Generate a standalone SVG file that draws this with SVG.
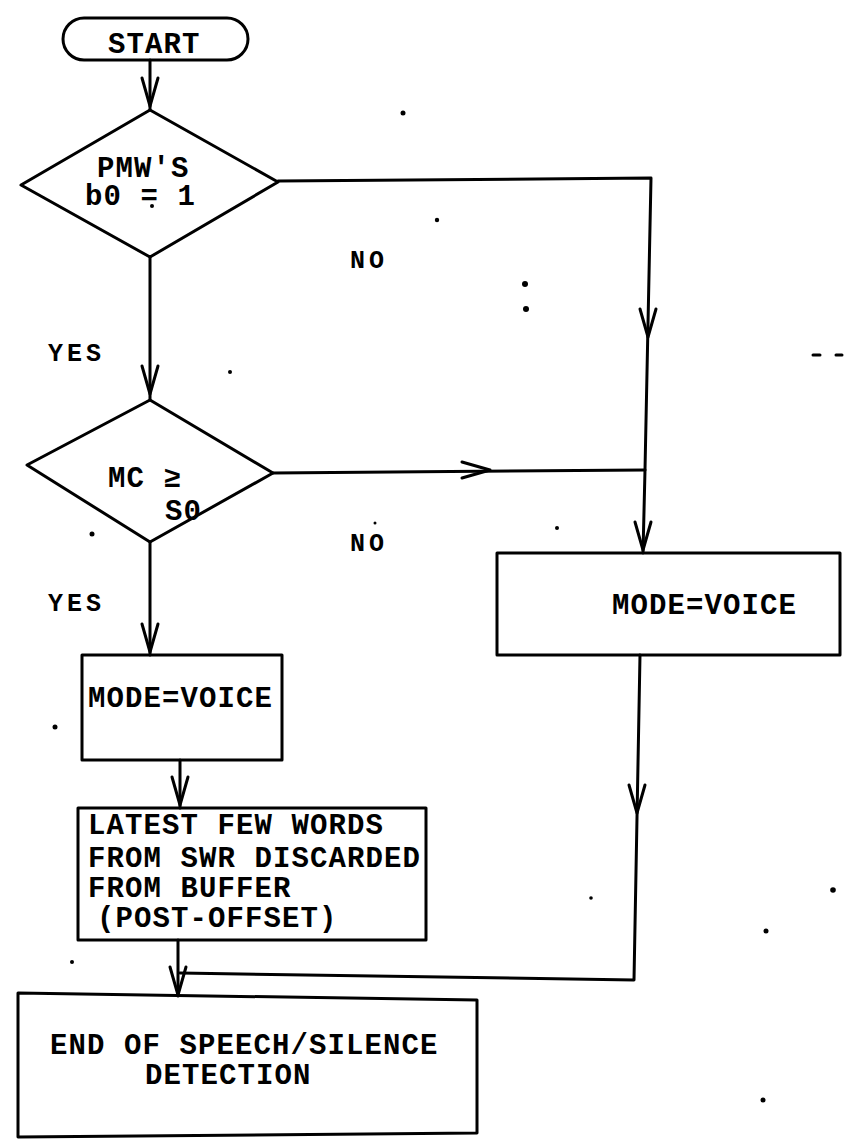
<svg xmlns="http://www.w3.org/2000/svg" width="845" height="1141" viewBox="0 0 845 1141">
<style>
.shape{fill:none;stroke:#000;stroke-width:3;stroke-linejoin:round}
.ln{fill:none;stroke:#000;stroke-width:3;stroke-linecap:round;stroke-linejoin:round}
.t{font-family:"Liberation Mono","DejaVu Sans Mono",monospace;font-weight:bold;font-size:29px;letter-spacing:1.1px;fill:#000}
.s{font-family:"Liberation Mono","DejaVu Sans Mono",monospace;font-weight:bold;font-size:25px;letter-spacing:4px;fill:#000}
.sp{fill:#000}
</style>
<defs>
<path id="ah" d="M-8,-28 L0,0 L8,-28" fill="none" stroke="#000" stroke-width="3" stroke-linecap="round" stroke-linejoin="round"/>
</defs>
<rect width="845" height="1141" fill="#fff"/>
<g id="connectors">
<path class="ln" d="M150,60 V110"/>
<path class="ln" d="M150,257 V400"/>
<path class="ln" d="M150,542 V655"/>
<path class="ln" d="M180,760 V808"/>
<path class="ln" d="M178,940 V996"/>
<path class="ln" d="M278,181 L651,178 L645,470 L643,553"/>
<path class="ln" d="M273,473 L645,470"/>
<path class="ln" d="M640,655 L634,980 L180,973"/>
<use href="#ah" transform="translate(150,106)"/>
<use href="#ah" transform="translate(150,394)"/>
<use href="#ah" transform="translate(150,652)"/>
<use href="#ah" transform="translate(180,805)"/>
<use href="#ah" transform="translate(178,995)"/>
<use href="#ah" transform="translate(648,337)"/>
<use href="#ah" transform="translate(643,550)"/>
<use href="#ah" transform="translate(637,813)"/>
<use href="#ah" transform="translate(490,470) rotate(-90)"/>
</g>
<g id="start">
<rect class="shape" x="63" y="18" width="185" height="42" rx="21"/>
<text class="t" x="108" y="53">START</text>
</g>
<g id="decision1">
<polygon class="shape" points="150,110 278,182 150,257 21,185"/>
<text class="t" x="97" y="177">PMW'S</text>
<text class="t" x="85" y="205">b0 = 1</text>
</g>
<g id="decision2">
<polygon class="shape" points="150,400 273,473 150,542 27,465"/>
<text class="t" x="108" y="487">MC ≥</text>
<text class="t" x="165" y="520">S0</text>
</g>
<g id="mode-voice-left">
<rect class="shape" x="82" y="655" width="200" height="105"/>
<text class="t" x="88" y="707">MODE=VOICE</text>
</g>
<g id="discard">
<rect class="shape" x="78" y="808" width="348" height="132"/>
<text class="t" x="88" y="834">LATEST FEW WORDS</text>
<text class="t" x="88" y="867">FROM SWR DISCARDED</text>
<text class="t" x="88" y="897">FROM BUFFER</text>
<text class="t" x="97" y="927">(POST-OFFSET)</text>
</g>
<g id="mode-voice-right">
<rect class="shape" x="497" y="553" width="343" height="102"/>
<text class="t" x="612" y="614">MODE=VOICE</text>
</g>
<g id="end">
<polygon class="shape" points="18,993 477,1000 477,1133 18,1137"/>
<text class="t" x="50" y="1054">END OF SPEECH/SILENCE</text>
<text class="t" x="145" y="1084">DETECTION</text>
</g>
<g id="labels">
<text class="s" x="350" y="268">NO</text>
<text class="s" x="48" y="361">YES</text>
<text class="s" x="350" y="551">NO</text>
<text class="s" x="48" y="611">YES</text>
</g>
<g id="specks">
<circle class="sp" cx="403" cy="113" r="2.5"/>
<circle class="sp" cx="437" cy="220" r="2.2"/>
<circle class="sp" cx="152" cy="206" r="2"/>
<circle class="sp" cx="230" cy="372" r="2"/>
<circle class="sp" cx="92" cy="534" r="2.5"/>
<circle class="sp" cx="375" cy="523" r="1.5"/>
<circle class="sp" cx="55" cy="727" r="2.5"/>
<circle class="sp" cx="72" cy="962" r="2"/>
<circle class="sp" cx="557" cy="528" r="2"/>
<circle class="sp" cx="525" cy="284" r="3"/>
<circle class="sp" cx="526" cy="309" r="3"/>
<path class="ln" d="M813,355 H820 M836,355 H842"/>
<circle class="sp" cx="591" cy="898" r="1.8"/>
<circle class="sp" cx="833" cy="890" r="2.8"/>
<circle class="sp" cx="766" cy="931" r="2.5"/>
<circle class="sp" cx="763" cy="1100" r="2.5"/>
</g>
</svg>
